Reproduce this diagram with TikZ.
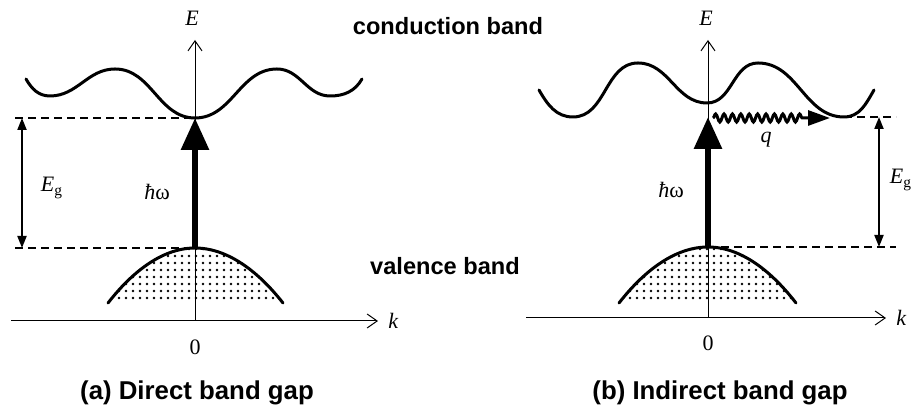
\documentclass[tikz,border=0pt]{standalone}
\usepackage{fontspec}
\setmainfont{Liberation Serif}
\newfontfamily\labelsans{Liberation Sans}
\usetikzlibrary{arrows.meta,decorations.pathmorphing,patterns.meta}

\begin{document}
\begin{tikzpicture}[
  x=0.5pt, y=0.5pt,
  axis/.style={line width=0.5pt, -{Straight Barb[length=5pt,width=7pt]}},
  band/.style={line width=1.5pt, line cap=round},
  gapline/.style={line width=0.6pt, dash pattern=on 4pt off 2.5pt},
  eg/.style={line width=1pt, {Triangle[length=6pt,width=4.5pt]}-{Triangle[length=6pt,width=4.5pt]}},
  photon/.style={line width=3pt, -{Triangle[length=16pt,width=13.5pt]}},
  phonon/.style={line width=1.5pt, -{Triangle[length=11pt,width=7.5pt]}, decorate,
    decoration={snake, amplitude=2pt, segment length=4.2pt, post length=12pt}},
  holes/.style={pattern={Dots[distance=3.5pt,radius=0.65pt]}},
  lbl/.style={font=\fontsize{11}{13}\selectfont, inner sep=1pt},
  bandname/.style={font=\labelsans\bfseries\fontsize{11.8}{14}\selectfont},
  caption/.style={font=\labelsans\bfseries\fontsize{12.9}{15}\selectfont}]

\useasboundingbox (0,0) rectangle (916,410);

% (a) direct gap
\coordinate (Oa) at (195,89);
\coordinate (kLa) at (11,89);
\coordinate (kRa) at (378,89);
\coordinate (Eta) at (195,370);
\coordinate (cbA) at (195,292);
\coordinate (vbA) at (195,162);
\coordinate (dUa) at (15,292);
\coordinate (dLa) at (15,162);
\coordinate (egTa) at (22,292);
\coordinate (egBa) at (22,162);

\fill[holes] (108,107) parabola bend (vbA) (283,107) -- cycle;
\draw[axis] (kLa) -- (kRa);
\draw[axis] (Oa) -- (Eta);
\draw[band] (26,331) to[out=-60,in=180] (50,314) to[out=0,in=180] (115,341)
  to[out=0,in=180] (cbA) to[out=0,in=180] (277,341) to[out=0,in=180] (330,314)
  to[out=0,in=-120] (362,331);
\draw[band] (108,107) parabola bend (vbA) (283,107);
\draw[gapline] (dUa) -- (cbA);
\draw[gapline] (dLa) -- (vbA);
\draw[eg] (egTa) -- (egBa);
\draw[photon] (vbA) -- (cbA);

\node[lbl] (Ea) at (192,392) {\textit{E}};
\node[lbl, anchor=west] (ka) at (386,89) {\textit{k}};
\node[lbl] (zeroa) at (195,63) {0};
\node[lbl] (Ega) at (52,222) {\textit{E}\textsubscript{g}};
\node[lbl] (hwa) at (157,218) {\textit{ħ}ω};
\node[caption] (capa) at (197,17) {(a) Direct band gap};

\node[bandname] (cbname) at (448,384) {conduction band};
\node[bandname] (vbname) at (445,144) {valence band};

% (b) indirect gap
\coordinate (Ob) at (708,92);
\coordinate (kLb) at (526,92);
\coordinate (kRb) at (886,92);
\coordinate (Etb) at (708,370);
\coordinate (cbB) at (844,293);
\coordinate (vbB) at (708,163);
\coordinate (phB) at (708,293);
\coordinate (qS) at (713,292);
\coordinate (qE) at (830,292);
\coordinate (dUb) at (896,293);
\coordinate (dLb) at (896,163);
\coordinate (egTb) at (879,293);
\coordinate (egBb) at (879,163);

\fill[holes] (619,107) parabola bend (vbB) (796,107) -- cycle;
\draw[axis] (kLb) -- (kRb);
\draw[axis] (Ob) -- (Etb);
\draw[band] (539,320) to[out=-60,in=180] (573,293) to[out=0,in=180] (638,347)
  to[out=0,in=180] (707,307) to[out=0,in=180] (758,347) to[out=0,in=180] (cbB)
  to[out=0,in=-120] (874,320);
\draw[band] (619,107) parabola bend (vbB) (796,107);
\draw[gapline] (cbB) -- (dUb);
\draw[gapline] (vbB) -- (dLb);
\draw[eg] (egTb) -- (egBb);
\draw[photon] (vbB) -- (phB);
\draw[phonon] (qS) -- (qE);

\node[lbl] (Eb) at (706,392) {\textit{E}};
\node[lbl, anchor=west] (kb) at (894,92) {\textit{k}};
\node[lbl] (zerob) at (708,67) {0};
\node[lbl] (Egb) at (901,230) {\textit{E}\textsubscript{g}};
\node[lbl] (hwb) at (671,220) {\textit{ħ}ω};
\node[lbl] (qb) at (766,270) {\textit{q}};
\node[caption] (capb) at (720,17) {(b) Indirect band gap};
\end{tikzpicture}
\end{document}
